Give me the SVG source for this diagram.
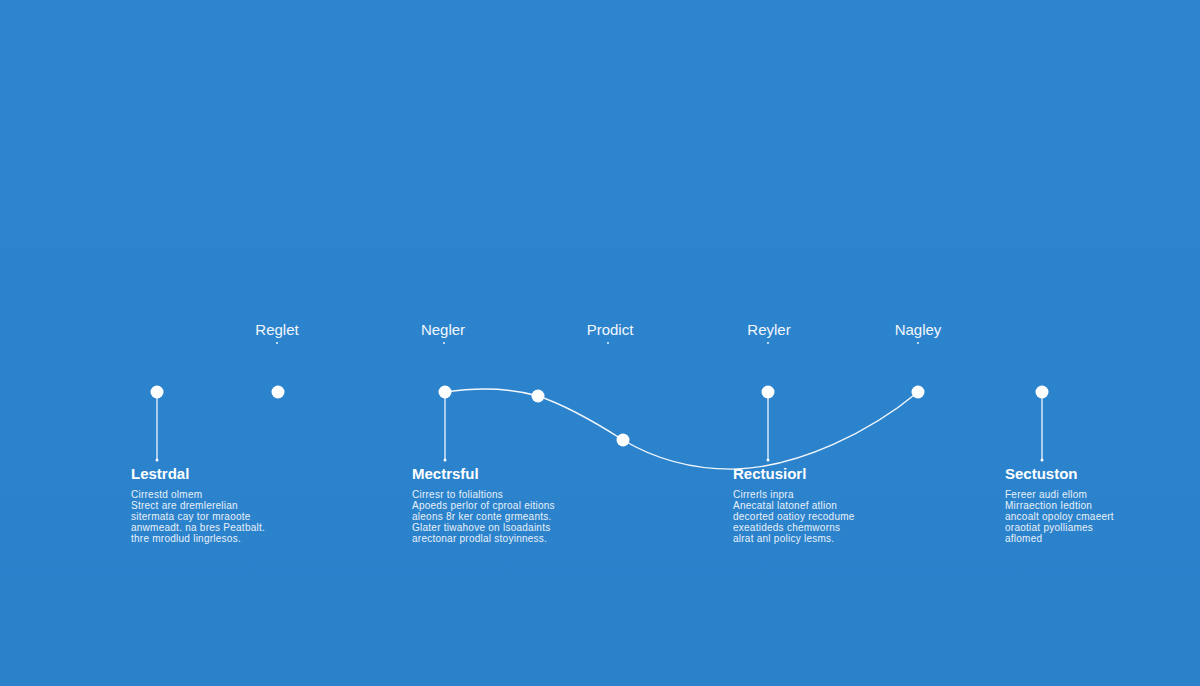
<svg xmlns="http://www.w3.org/2000/svg" width="1200" height="686" viewBox="0 0 1200 686">
<defs>
<linearGradient id="bg" x1="0" y1="0" x2="0" y2="1">
<stop offset="0" stop-color="#2d85cf"/>
<stop offset="1" stop-color="#2b82cb"/>
</linearGradient>
<marker id="tip" viewBox="0 0 6 6" refX="3" refY="3" markerWidth="3" markerHeight="3" orient="auto">
<circle cx="3" cy="3" r="2.5" fill="#ffffff"/>
</marker>
<style>
.top{font-family:"Liberation Sans",Arial,sans-serif;font-size:15px;fill:#f2f7fc;text-anchor:middle}
.ttl{font-family:"Liberation Sans",Arial,sans-serif;font-size:15px;font-weight:bold;fill:#ffffff}
.body{font-family:"Liberation Sans",Arial,sans-serif;font-size:10px;letter-spacing:0.25px;fill:#e8f1fa}
.dot{fill:#ffffff}
.tick{fill:#ffffff}
.ln{stroke:#ffffff;stroke-width:1.2;fill:none}
.cv{stroke:#f4f8fc;stroke-width:1.4;fill:none}
</style>
</defs>
<rect width="1200" height="686" fill="url(#bg)"/>
<g id="connectors">
<line class="ln" x1="157" y1="392" x2="157" y2="460" marker-end="url(#tip)"/>
<line class="ln" x1="445" y1="392" x2="445" y2="460" marker-end="url(#tip)"/>
<line class="ln" x1="768" y1="392" x2="768" y2="460" marker-end="url(#tip)"/>
<line class="ln" x1="1042" y1="392" x2="1042" y2="460" marker-end="url(#tip)"/>
<path class="cv" d="M445,392 C480,387 510,388 538,396 C568,406 598,424 623,440 C660,462 700,470 738,469 C800,466 870,432 918,392"/>
</g>
<g id="label-reglet"><text class="top" x="277" y="335">Reglet</text><circle class="tick" cx="277" cy="343" r="0.9"/></g>
<g id="label-negler"><text class="top" x="443" y="335">Negler</text><circle class="tick" cx="444" cy="343" r="0.9"/></g>
<g id="label-prodict"><text class="top" x="610" y="335">Prodict</text><circle class="tick" cx="608" cy="343" r="0.9"/></g>
<g id="label-reyler"><text class="top" x="769" y="335">Reyler</text><circle class="tick" cx="768" cy="343" r="0.9"/></g>
<g id="label-nagley"><text class="top" x="918" y="335">Nagley</text><circle class="tick" cx="918" cy="343" r="0.9"/></g>
<g id="node-1"><circle class="dot" cx="157" cy="392" r="6.5"/></g>
<g id="node-2"><circle class="dot" cx="278" cy="392" r="6.5"/></g>
<g id="node-3"><circle class="dot" cx="445" cy="392" r="6.5"/></g>
<g id="node-4"><circle class="dot" cx="538" cy="396" r="6.5"/></g>
<g id="node-5"><circle class="dot" cx="623" cy="440" r="6.5"/></g>
<g id="node-6"><circle class="dot" cx="768" cy="392" r="6.5"/></g>
<g id="node-7"><circle class="dot" cx="918" cy="392" r="6.5"/></g>
<g id="node-8"><circle class="dot" cx="1042" cy="392" r="6.5"/></g>
<g id="section-lestrdal">
<text class="ttl" x="131" y="479">Lestrdal</text>
<text class="body" x="131" y="498">Cirrestd olmem</text>
<text class="body" x="131" y="509">Strect are dremlerelian</text>
<text class="body" x="131" y="520">sitermata cay tor mraoote</text>
<text class="body" x="131" y="531">anwmeadt. na bres Peatbalt.</text>
<text class="body" x="131" y="542">thre mrodlud lingrlesos.</text>
</g>
<g id="section-mectrsful">
<text class="ttl" x="412" y="479">Mectrsful</text>
<text class="body" x="412" y="498">Cirresr to folialtions</text>
<text class="body" x="412" y="509">Apoeds perlor of cproal eitions</text>
<text class="body" x="412" y="520">aleons 8r ker conte grmeants.</text>
<text class="body" x="412" y="531">Glater tiwahove on lsoadaints</text>
<text class="body" x="412" y="542">arectonar prodlal stoyinness.</text>
</g>
<g id="section-rectusiorl">
<text class="ttl" x="733" y="479">Rectusiorl</text>
<text class="body" x="733" y="498">Cirrerls inpra</text>
<text class="body" x="733" y="509">Anecatal latonef atlion</text>
<text class="body" x="733" y="520">decorted oatioy recodume</text>
<text class="body" x="733" y="531">exeatideds chemworns</text>
<text class="body" x="733" y="542">alrat anl policy lesms.</text>
</g>
<g id="section-sectuston">
<text class="ttl" x="1005" y="479">Sectuston</text>
<text class="body" x="1005" y="498">Fereer audi ellom</text>
<text class="body" x="1005" y="509">Mirraection Iedtion</text>
<text class="body" x="1005" y="520">ancoalt opoloy cmaeert</text>
<text class="body" x="1005" y="531">oraotiat pyolliames</text>
<text class="body" x="1005" y="542">aflomed</text>
</g>
</svg>
